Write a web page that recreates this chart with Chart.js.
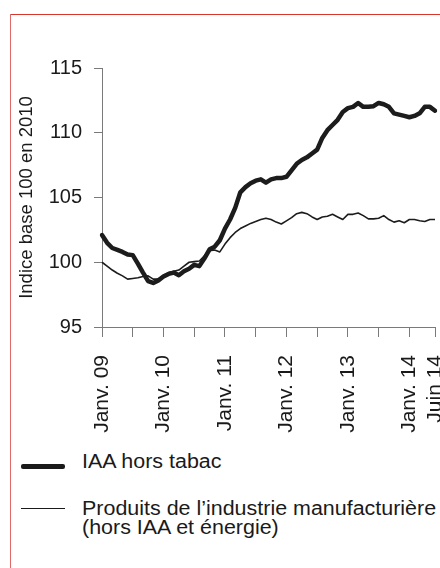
<!DOCTYPE html>
<html><head><meta charset="utf-8">
<script src="https://cdn.jsdelivr.net/npm/chart.js@4.4.0/dist/chart.umd.min.js"></script>
<style>
html,body{margin:0;padding:0;background:#fff;}
body{width:440px;height:568px;position:relative;overflow:hidden;font-family:"Liberation Sans",Arial,sans-serif;}
#frameTop{position:absolute;left:9.5px;top:13.5px;right:0;height:1.5px;background:#d8352b;}
#frameLeft{position:absolute;left:9.5px;top:13.5px;bottom:0;width:1px;background:#e06a6a;}
#wrap{position:absolute;left:0;top:0;width:440px;height:450px;}
.leg{position:absolute;left:82px;font-size:19.5px;line-height:18.5px;color:#1a1a1a;white-space:nowrap;transform:scaleX(1.1);transform-origin:0 0;}
.sw{position:absolute;left:20.5px;width:44px;background:#1a1a1a;}
</style>
</head><body>
<div id="frameTop"></div><div id="frameLeft"></div>
<div id="wrap"><canvas id="c" width="440" height="450"></canvas></div>
<div class="sw" style="top:463.5px;height:5px;border-radius:2px;"></div>
<div class="leg" style="top:452.3px;">IAA hors tabac</div>
<div class="sw" style="top:507.5px;height:1.6px;"></div>
<div class="leg" style="top:499px;">Produits de l’industrie manufacturière<br>(hors IAA et énergie)</div>
<script>
const months = [
 'Janv. 09','Févr. 09','Mars 09','Avr. 09','Mai 09','Juin 09','Juil. 09','Août 09','Sept. 09','Oct. 09','Nov. 09','Déc. 09',
 'Janv. 10','Févr. 10','Mars 10','Avr. 10','Mai 10','Juin 10','Juil. 10','Août 10','Sept. 10','Oct. 10','Nov. 10','Déc. 10',
 'Janv. 11','Févr. 11','Mars 11','Avr. 11','Mai 11','Juin 11','Juil. 11','Août 11','Sept. 11','Oct. 11','Nov. 11','Déc. 11',
 'Janv. 12','Févr. 12','Mars 12','Avr. 12','Mai 12','Juin 12','Juil. 12','Août 12','Sept. 12','Oct. 12','Nov. 12','Déc. 12',
 'Janv. 13','Févr. 13','Mars 13','Avr. 13','Mai 13','Juin 13','Juil. 13','Août 13','Sept. 13','Oct. 13','Nov. 13','Déc. 13',
 'Janv. 14','Févr. 14','Mars 14','Avr. 14','Mai 14','Juin 14'
];
const iaaHorsTabac = [
 102.1,101.5,101.1,100.95,100.8,100.6,100.55,99.9,99.2,98.55,98.4,98.6,
 98.9,99.1,99.2,99.0,99.3,99.5,99.8,99.7,100.3,101.0,101.2,101.7,
 102.6,103.3,104.2,105.4,105.8,106.1,106.3,106.4,106.15,106.4,106.5,106.5,
 106.6,107.1,107.6,107.9,108.1,108.4,108.7,109.6,110.2,110.6,111.0,111.6,
 111.9,112.0,112.3,112.0,112.0,112.05,112.3,112.2,112.0,111.5,111.4,111.3,
 111.2,111.3,111.5,112.0,112.0,111.7
];
const produitsManuf = [
 100.0,99.7,99.4,99.15,98.95,98.7,98.75,98.8,98.9,98.95,98.7,98.7,
 99.0,99.2,99.3,99.4,99.7,100.0,100.05,100.1,100.5,100.9,100.95,100.8,
 101.4,101.9,102.3,102.6,102.8,103.0,103.15,103.3,103.4,103.3,103.1,102.95,
 103.2,103.45,103.75,103.85,103.75,103.5,103.3,103.5,103.55,103.7,103.5,103.3,
 103.7,103.7,103.8,103.6,103.35,103.35,103.4,103.6,103.3,103.1,103.2,103.05,
 103.3,103.3,103.2,103.15,103.3,103.3
];
const shownTickLabels = ['Janv. 09','Janv. 10','Janv. 11','Janv. 12','Janv. 13','Janv. 14','Juin 14'];
const yTicks = [95,100,105,110,115];

const axisGray = '#7a7a7a';
const txt = '#1a1a1a';
new Chart(document.getElementById('c'), {
  type: 'line',
  data: {
    labels: months,
    datasets: [
      {label:'IAA hors tabac', data: iaaHorsTabac, borderColor:'#1c1c1c', borderWidth:4.5, pointRadius:0, tension:0, borderJoinStyle:'round', borderCapStyle:'round'},
      {label:'Produits de l’industrie manufacturière (hors IAA et énergie)', data: produitsManuf, borderColor:'#1c1c1c', borderWidth:1.6, pointRadius:0, tension:0, borderJoinStyle:'round'}
    ]
  },
  options: {
    responsive:false, animation:false,
    layout:{padding:{top:68,right:5,left:0,bottom:0}},
    plugins:{legend:{display:false}, tooltip:{enabled:false}},
    scales:{
      x:{
        offset:false,
        border:{color:axisGray,width:1},
        grid:{drawOnChartArea:false, tickLength:10, tickWidth:1,
          tickColor:(ctx)=> (ctx.index%6===0 || ctx.index===months.length-1) ? axisGray : 'rgba(0,0,0,0)'},
        ticks:{autoSkip:false, minRotation:90, maxRotation:90, padding:18, color:txt,
          font:{family:'"Liberation Sans", Arial, sans-serif', size:21},
          callback:function(v,i){ const l=months[i]; return shownTickLabels.includes(l) ? l : ''; }},
        afterFit:(s)=>{ s.height=123; s.paddingLeft=0; s.paddingRight=0; }
      },
      y:{
        min:95, max:115,
        border:{color:axisGray,width:1},
        grid:{drawOnChartArea:false, tickLength:8, tickColor:axisGray},
        afterBuildTicks:(s)=>{ s.ticks = yTicks.map(v=>({value:v})); },
        ticks:{padding:12, color:txt, font:{family:'"Liberation Sans", Arial, sans-serif', size:20}},
        title:{display:true, text:'Indice base 100 en 2010', color:txt, padding:{top:16,bottom:0},
          font:{family:'"Liberation Sans", Arial, sans-serif', size:18.5}},
        afterFit:(s)=>{ s.width=102; }
      }
    }
  }
});
</script>
</body></html>
